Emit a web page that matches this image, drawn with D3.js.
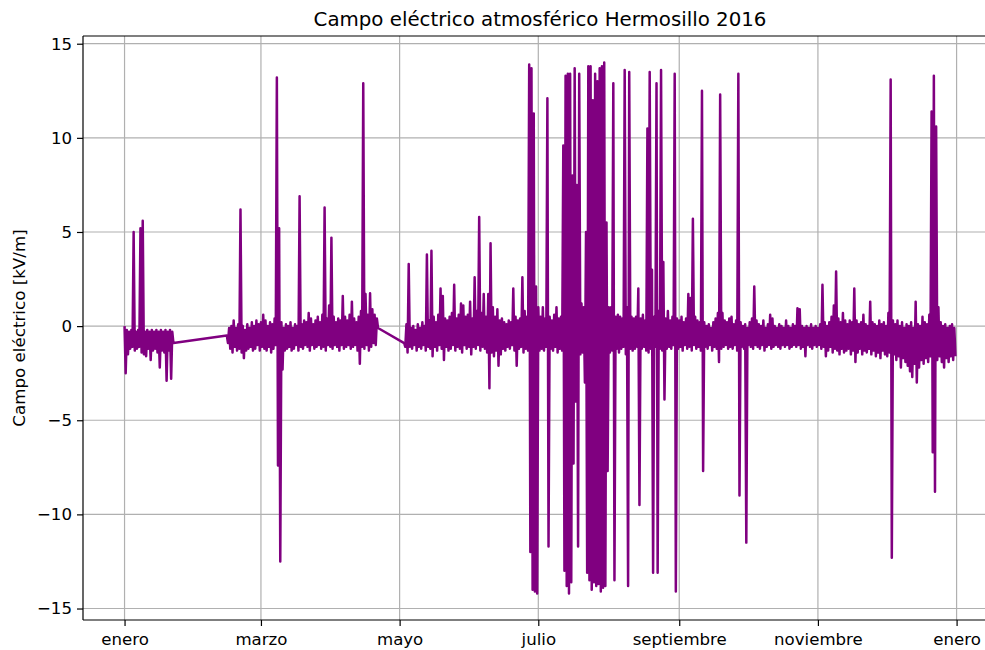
<!DOCTYPE html>
<html><head><meta charset="utf-8">
<script src="https://cdn.jsdelivr.net/npm/d3@7"></script>
<style>html,body{margin:0;padding:0;background:#fff;overflow:hidden}</style>
</head><body><svg id="chart" width="985" height="650"></svg>
<script>
const titleText = "Campo eléctrico atmosférico Hermosillo 2016";
const yLabelText = "Campo eléctrico [kV/m]";

// start date of each recorded segment (one hi and one lo value per day)
const segmentStarts = ["2016-01-01", "2016-02-15", "2016-05-03"];

const seg1Hi = [0.0,-0.2,-0.3,-0.2,5.0,-0.3,-0.2,5.2,5.6,-0.3,-0.2,-0.3,-0.2,-0.3,-0.2,-0.3,-0.2,-0.3,-0.2,-0.3,-0.2,-0.3];
const seg1Lo = [-2.5,-1.5,-1.2,-1.1,-1.3,-1.2,-1.1,-1.4,-1.5,-1.6,-1.2,-1.8,-1.3,-1.2,-1.4,-2.2,-1.3,-1.4,-2.9,-1.3,-2.8,-0.9];

const seg2Hi = [-0.5,-0.1,0.0,0.3,-0.1,0.1,6.2,0.0,-0.2,0.1,-0.1,0.2,0.0,0.3,0.1,0.2,0.6,0.3,0.0,0.2,0.1,0.4,13.2,5.2,0.2,-0.1,0.1,0.0,0.2,-0.1,0.1,0.0,6.9,0.1,0.3,0.2,0.7,0.4,0.1,0.3,0.5,0.2,0.6,6.3,0.4,1.1,4.7,0.5,0.2,0.4,0.3,1.6,0.5,0.3,0.6,1.3,0.4,0.2,0.5,0.8,12.9,1.7,0.6,1.75,0.9,0.6,0.4];
const seg2Lo = [-0.9,-1.2,-1.4,-1.1,-1.3,-1.2,-1.4,-1.7,-1.3,-1.2,-1.1,-1.3,-1.2,-1.0,-1.3,-1.1,-1.2,-1.3,-1.1,-1.4,-1.2,-1.0,-7.4,-12.5,-2.3,-1.3,-1.2,-1.1,-1.3,-1.2,-1.0,-1.3,-1.1,-1.2,-1.0,-1.1,-1.3,-1.0,-1.2,-1.1,-1.0,-1.2,-1.1,-1.3,-1.0,-1.1,-1.2,-1.0,-1.1,-1.3,-1.0,-1.2,-1.1,-1.0,-1.2,-1.1,-1.0,-1.3,-2.0,-1.1,-1.2,-1.0,-1.3,-1.1,-0.9,-1.0,-0.1];

const seg3Hi = [
 -0.9,0.1,3.3,-0.1,0.0,-0.2,0.1,-0.1,0.2,0.0,
 3.8,0.3,4.0,0.5,0.2,0.6,2.0,1.6,0.4,0.3,
 0.5,0.7,2.2,0.4,0.6,1.2,1.1,0.5,0.6,1.3,
 0.4,2.6,0.8,5.8,0.7,1.7,0.5,1.7,4.4,1.0,
 0.5,0.9,0.3,0.4,0.2,0.1,0.3,0.2,2.0,0.5,
 0.3,0.4,2.6,0.8,0.5,13.9,13.7,11.3,2.1,1.0,
 0.5,1.0,0.4,12.1,0.5,0.3,0.6,1.0,0.4,0.5,
 9.6,13.3,13.4,13.4,8.0,13.7,7.5,13.4,1.2,1.0,
 5.0,13.8,13.8,12.0,13.4,13.0,13.7,13.8,14.0,5.5,
 1.0,1.0,12.9,0.5,0.6,0.5,0.4,13.6,1.0,13.5,
 0.5,0.4,0.5,2.0,0.4,0.6,0.3,10.5,13.5,3.0,
 0.5,12.9,0.8,13.6,3.4,0.4,0.8,0.3,0.5,13.4,
 0.4,0.3,0.5,0.2,0.4,1.7,1.5,5.7,0.5,0.3,
 0.2,12.5,0.2,0.0,0.1,-0.1,0.2,0.4,0.7,12.3,
 0.7,0.3,0.2,0.4,0.5,0.1,0.3,13.4,0.2,0.0,
 0.1,-0.1,0.2,0.4,2.1,0.3,0.1,0.0,0.3,-0.1,
 0.1,0.6,0.4,0.0,-0.1,0.1,0.0,-0.1,0.3,0.0,
 -0.1,0.1,0.0,0.95,0.9,0.0,-0.1,0.0,-0.1,0.1,
 -0.1,0.0,-0.1,0.1,2.2,0.2,0.0,0.2,0.5,1.1,
 2.9,0.4,0.2,0.7,0.3,0.1,0.3,0.2,2.0,0.3,
 0.1,0.2,0.6,0.1,0.0,1.3,0.2,0.1,0.0,0.3,
 0.1,0.2,0.0,0.7,13.1,0.3,0.1,0.3,0.0,0.2,
 -0.1,0.1,0.0,0.2,-0.1,1.3,0.1,0.0,0.5,0.2,
 0.1,0.6,11.4,13.3,10.6,1.0,0.2,0.0,0.1,-0.1,
 0.0,0.1,-0.1];
const seg3Lo = [
 -1.1,-1.4,-1.1,-1.2,-1.0,-1.3,-1.1,-1.2,-1.0,-1.3,
 -1.1,-1.2,-1.6,-1.1,-1.3,-1.0,-1.2,-1.8,-1.1,-1.3,
 -1.2,-1.0,-1.3,-1.1,-1.2,-1.4,-1.0,-1.2,-1.1,-1.5,
 -1.1,-1.2,-1.0,-1.3,-1.1,-1.2,-1.4,-3.3,-1.4,-1.6,
 -1.3,-2.1,-1.5,-1.2,-1.3,-1.1,-1.2,-1.0,-1.3,-2.1,
 -1.2,-1.1,-1.4,-1.2,-1.3,-12.0,-14.0,-14.1,-14.2,-1.3,
 -1.2,-1.3,-1.1,-11.7,-1.2,-1.3,-1.1,-1.4,-1.2,-1.3,
 -13.0,-13.8,-14.2,-13.6,-7.3,-4.0,-11.7,-1.5,-1.4,-3.0,
 -13.1,-13.5,-14.0,-13.6,-13.8,-13.7,-14.1,-13.9,-13.8,-7.7,
 -1.4,-1.3,-13.5,-1.2,-1.4,-1.2,-1.1,-1.5,-13.8,-1.2,
 -1.3,-1.2,-1.1,-9.5,-1.2,-1.1,-1.3,-1.4,-1.2,-13.1,
 -1.1,-13.1,-1.2,-1.3,-3.9,-1.2,-1.1,-1.2,-1.0,-14.1,
 -1.2,-1.1,-1.3,-1.0,-1.2,-1.1,-1.3,-1.0,-1.2,-1.1,
 -1.3,-7.7,-1.1,-1.2,-1.0,-1.3,-1.1,-1.2,-1.9,-1.2,
 -1.1,-1.0,-1.2,-1.1,-1.2,-1.0,-1.3,-9.0,-1.1,-1.2,
 -11.5,-1.0,-1.1,-1.2,-1.0,-1.1,-1.2,-1.0,-1.3,-1.1,
 -1.0,-1.2,-1.1,-1.0,-1.1,-1.2,-1.0,-1.1,-1.0,-1.2,
 -1.1,-1.0,-1.1,-1.0,-1.2,-1.1,-1.6,-1.0,-1.1,-1.2,
 -1.0,-1.1,-1.0,-1.2,-1.1,-1.6,-1.3,-1.1,-1.4,-1.2,
 -1.3,-1.5,-1.2,-1.4,-1.3,-1.2,-1.5,-1.3,-1.9,-1.4,
 -1.2,-1.5,-1.3,-1.4,-1.2,-1.5,-1.3,-1.6,-1.4,-1.7,
 -1.3,-1.5,-1.6,-1.4,-12.3,-1.5,-1.8,-1.6,-2.2,-1.7,
 -1.9,-2.1,-2.4,-2.7,-2.0,-3.0,-2.2,-1.8,-2.0,-1.7,
 -1.9,-1.6,-6.7,-8.8,-1.8,-1.6,-1.9,-2.2,-1.7,-1.9,
 -1.6,-1.8,-1.6];

const xTickDates = ["2016-01-01","2016-03-01","2016-05-01","2016-07-01","2016-09-01","2016-11-01","2017-01-01"];
const xTickLabels = ["enero","marzo","mayo","julio","septiembre","noviembre","enero"];
const yTickValues = [-15,-10,-5,0,5,10,15];

const segHi = [seg1Hi, seg2Hi, seg3Hi];
const segLo = [seg1Lo, seg2Lo, seg3Lo];
const DAY = 86400000;
const points = [];
segmentStarts.forEach((s, k) => {
  const t0 = Date.parse(s + "T00:00:00Z");
  segHi[k].forEach((h, i) => {
    points.push({t: new Date(t0 + i * DAY), v: h});
    points.push({t: new Date(t0 + i * DAY + DAY / 2), v: segLo[k][i]});
  });
});

const L = 83, R = 997, T = 36, B = 620;
const FONT = "DejaVu Sans, sans-serif";
const svg = d3.select("#chart");
svg.append("rect").attr("width", 985).attr("height", 650).attr("fill", "#fff");

const tExt = d3.extent(points, d => d.t.getTime());
const tPad = (tExt[1] - tExt[0]) * 0.05;
const x = d3.scaleUtc().domain([new Date(tExt[0] - tPad), new Date(tExt[1] + tPad)]).range([L, R]);
const vExt = d3.extent(points, d => d.v);
const vPad = (vExt[1] - vExt[0]) * 0.05;
const y = d3.scaleLinear().domain([vExt[0] - vPad, vExt[1] + vPad]).range([B, T]);

const xTicks = xTickDates.map(s => new Date(s + "T00:00:00Z"));

// grid
const grid = svg.append("g").attr("stroke", "#b0b0b0").attr("stroke-width", 1.2);
xTicks.forEach(d => grid.append("line").attr("x1", x(d)).attr("x2", x(d)).attr("y1", T).attr("y2", B));
yTickValues.forEach(v => grid.append("line").attr("x1", L).attr("x2", R).attr("y1", y(v)).attr("y2", y(v)));

// data line
svg.append("defs").append("clipPath").attr("id", "clip").append("rect")
  .attr("x", L).attr("y", T).attr("width", R - L).attr("height", B - T);
svg.append("path").datum(points)
  .attr("clip-path", "url(#clip)")
  .attr("fill", "none").attr("stroke", "purple").attr("stroke-width", 2.5)
  .attr("stroke-linejoin", "round")
  .attr("d", d3.line().x(d => x(d.t)).y(d => y(d.v)));

// axes
const xAxis = svg.append("g").attr("transform", `translate(0,${B})`)
  .call(d3.axisBottom(x).tickValues(xTicks).tickFormat((d, i) => xTickLabels[i]).tickSize(6).tickPadding(7));
const yAxis = svg.append("g").attr("transform", `translate(${L},0)`)
  .call(d3.axisLeft(y).tickValues(yTickValues).tickFormat(v => v < 0 ? "\u2212" + Math.abs(v) : String(v)).tickSize(6).tickPadding(5));
[xAxis, yAxis].forEach(g => {
  g.select(".domain").remove();
  g.selectAll(".tick line").attr("stroke", "#000").attr("stroke-width", 1.2);
  g.selectAll(".tick text").attr("fill", "#000").style("font-family", FONT).style("font-size", "16.6px");
});

// spines
const sp = svg.append("g").attr("stroke", "#000").attr("stroke-width", 1.2).attr("fill", "none");
sp.append("line").attr("x1", L).attr("x2", L).attr("y1", T).attr("y2", B);
sp.append("line").attr("x1", L).attr("x2", R).attr("y1", B).attr("y2", B);
sp.append("line").attr("x1", L).attr("x2", R).attr("y1", T).attr("y2", T);
sp.append("line").attr("x1", R).attr("x2", R).attr("y1", T).attr("y2", B);

svg.append("text").attr("x", (L + R) / 2).attr("y", 26).attr("text-anchor", "middle")
  .style("font-family", FONT).style("font-size", "19.8px").attr("fill", "#000").text(titleText);
svg.append("text").attr("transform", `translate(25,${(T + B) / 2}) rotate(-90)`).attr("text-anchor", "middle")
  .style("font-family", FONT).style("font-size", "16.7px").attr("fill", "#000").text(yLabelText);
</script></body></html>
